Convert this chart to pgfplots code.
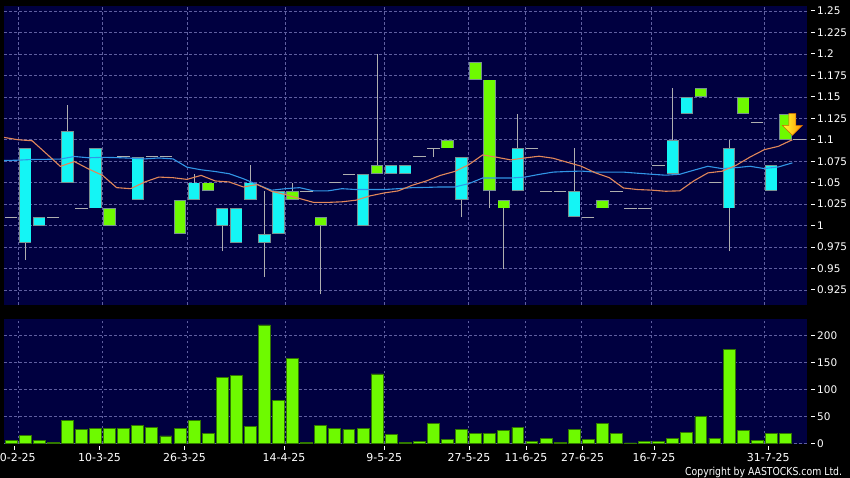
\documentclass[border=0pt]{standalone}
\usepackage{pgfplots}
\pgfplotsset{compat=1.18}
\usepackage{pgfplotstable}
\usepackage{fontspec}
\setmainfont{DejaVu Sans}

\definecolor{navybg}{RGB}{0,0,64}
\definecolor{gridc}{RGB}{95,95,160}
\definecolor{cyanc}{RGB}{20,245,245}
\definecolor{greenc}{RGB}{110,250,0}
\definecolor{outc}{RGB}{120,145,145}
\definecolor{wickc}{RGB}{175,175,175}
\definecolor{maor}{RGB}{225,135,90}
\definecolor{mabl}{RGB}{50,150,230}
\definecolor{volg}{RGB}{110,250,0}
\definecolor{volb}{RGB}{50,120,0}

\newcommand{\yl}[1]{\rule[3.5bp]{3.5bp}{0.8bp}\hspace{2.5bp}#1}
\newcommand{\xl}[1]{\rule{0.8bp}{3.5bp}\\#1}

\pgfplotstableread{
x bot top
1 0.98 1.09
2 1.00 1.01
4 1.05 1.11
6 1.02 1.09
9 1.03 1.08
13 1.03 1.05
15 1.00 1.02
16 0.98 1.02
17 1.03 1.05
18 0.98 0.99
19 0.99 1.04
25 1.00 1.06
27 1.06 1.07
28 1.06 1.07
32 1.03 1.08
36 1.04 1.09
40 1.01 1.04
47 1.06 1.10
48 1.13 1.15
51 1.02 1.09
54 1.04 1.07
}\cyanbody

\pgfplotstableread{
x bot top
7 1.00 1.02
12 0.99 1.03
14 1.04 1.05
20 1.03 1.04
22 1.00 1.01
26 1.06 1.07
31 1.09 1.10
33 1.17 1.19
34 1.04 1.17
35 1.02 1.03
42 1.02 1.03
49 1.15 1.16
52 1.13 1.15
55 1.10 1.13
}\greenbody

\pgfplotstableread{
x lo hi
1 0.96 1.09
4 1.05 1.14
13 1.03 1.06
15 0.97 1.02
17 1.03 1.07
18 0.94 1.04
20 1.03 1.05
22 0.92 1.01
26 1.06 1.20
30 1.08 1.09
32 1.01 1.08
34 1.02 1.17
35 0.95 1.03
36 1.04 1.13
40 1.01 1.09
47 1.06 1.16
51 0.97 1.10
}\wicks

\pgfplotstableread{
x y
0 1.01
3 1.01
5 1.02
8 1.08
10 1.08
11 1.08
21 1.04
23 1.05
24 1.06
29 1.08
30 1.09
37 1.09
38 1.04
39 1.04
41 1.01
43 1.04
44 1.02
45 1.02
46 1.07
50 1.05
53 1.12
56 1.10
}\dojis

\pgfplotstableread{
x y
-0.5 1.1027
0.5 1.1000
1.5 1.0988
2.5 1.0840
3.5 1.0690
4.5 1.0746
5.5 1.0660
6.5 1.0585
7.5 1.0442
8.5 1.0430
9.5 1.0508
10.5 1.0565
11.5 1.0558
12.5 1.0538
13.5 1.0585
14.5 1.0520
15.5 1.0508
16.5 1.0450
17.5 1.0478
18.5 1.0400
19.5 1.0360
20.5 1.0315
21.5 1.0270
22.5 1.0270
23.5 1.0277
24.5 1.0296
25.5 1.0346
26.5 1.0380
27.5 1.0404
28.5 1.0470
29.5 1.0520
30.5 1.0585
31.5 1.0630
32.5 1.0708
33.5 1.0823
34.5 1.0796
35.5 1.0765
36.5 1.0788
37.5 1.0808
38.5 1.0785
39.5 1.0738
40.5 1.0692
41.5 1.0615
42.5 1.0558
43.5 1.0438
44.5 1.0420
45.5 1.0413
46.5 1.0400
47.5 1.0405
48.5 1.0521
49.5 1.0614
50.5 1.0633
51.5 1.0702
52.5 1.0799
53.5 1.0884
54.5 1.0923
55.5 1.1000
}\maO

\pgfplotstableread{
x y
-0.5 1.0758
0.5 1.0762
1.5 1.0770
2.5 1.0772
3.5 1.0775
4.5 1.0805
5.5 1.0790
6.5 1.0795
7.5 1.0792
8.5 1.0785
9.5 1.0777
10.5 1.0788
11.5 1.0777
12.5 1.0680
13.5 1.0650
14.5 1.0630
15.5 1.0604
16.5 1.0546
17.5 1.0477
18.5 1.0412
19.5 1.0430
20.5 1.0442
21.5 1.0404
22.5 1.0404
23.5 1.0430
24.5 1.0420
25.5 1.0420
26.5 1.0420
27.5 1.0430
28.5 1.0442
29.5 1.0445
30.5 1.0450
31.5 1.0450
32.5 1.0488
33.5 1.0554
34.5 1.0554
35.5 1.0554
36.5 1.0565
37.5 1.0596
38.5 1.0623
39.5 1.0630
40.5 1.0635
41.5 1.0623
42.5 1.0623
43.5 1.0623
44.5 1.0610
45.5 1.0598
46.5 1.0587
47.5 1.0598
48.5 1.0645
49.5 1.0691
50.5 1.0664
51.5 1.0675
52.5 1.0691
53.5 1.0664
54.5 1.0683
55.5 1.0730
}\maB

\pgfplotstableread{
x v
0 5
1 15
2 5
3 2
4 43
5 26
6 28
7 28
8 28
9 33
10 30
11 14
12 28
13 43
14 19
15 123
16 127
17 32
18 220
19 80
20 157
21 2
22 33
23 28
24 26
25 28
26 129
27 17
28 2
29 4
30 37
31 7
32 26
33 19
34 19
35 24
36 30
37 4
38 10
39 2
40 26
41 7
42 37
43 19
44 1
45 4
46 4
47 10
48 21
49 50
50 10
51 175
52 24
53 6
54 19
55 19
}\vol

\pgfplotsset{
  chartbase/.style={
    scale only axis, anchor=south west,
    width=803bp,
    xmin=-0.5, xmax=56.54,
    axis background/.style={fill=navybg},
    axis line style={draw=none},
    major tick length=0pt,
    xtick={0.5,6.5,12.5,19.5,26.5,32.5,36.55,40.5,45.5,53.5},
    xticklabels={},
    ytick pos=right, yticklabel pos=right,
    grid=major,
    grid style={draw=gridc, dash pattern=on 2.5bp off 2.5bp, line width=0.6bp},
    yticklabel style={anchor=west, inner xsep=0pt, xshift=4bp,
      font=\fontsize{10.5}{12}\selectfont, text=white},
  }
}

\begin{document}
\begin{tikzpicture}
\useasboundingbox (0,0) rectangle (850bp,478bp);
\fill[black] (0,0) rectangle (850bp,478bp);

\begin{axis}[chartbase,
  at={(4bp,173bp)}, height=299bp,
  ymin=0.9075, ymax=1.2558,
  ytick={0.925,0.95,0.975,1,1.025,1.05,1.075,1.1,1.125,1.15,1.175,1.2,1.225,1.25},
  yticklabels={\yl{0.925},\yl{0.95},\yl{0.975},\yl{1},\yl{1.025},\yl{1.05},\yl{1.075},\yl{1.1},\yl{1.125},\yl{1.15},\yl{1.175},\yl{1.2},\yl{1.225},\yl{1.25}},
]
% wicks
\addplot[draw=none, mark=none, forget plot,
  error bars/.cd, y dir=plus, y explicit, error mark=none,
  error bar style={draw=wickc, line width=1bp}]
  table[x=x, y=lo, y error expr=\thisrow{hi}-\thisrow{lo}] {\wicks};
% body outlines
\addplot[draw=none, mark=none, forget plot,
  error bars/.cd, y dir=plus, y explicit, error mark=none,
  error bar style={draw=outc, line width=12.4bp}]
  table[x=x, y=bot, y error expr=\thisrow{top}-\thisrow{bot}] {\cyanbody};
\addplot[draw=none, mark=none, forget plot,
  error bars/.cd, y dir=plus, y explicit, error mark=none,
  error bar style={draw=outc, line width=12.4bp}]
  table[x=x, y=bot, y error expr=\thisrow{top}-\thisrow{bot}] {\greenbody};
% body fills
\addplot[draw=none, mark=none, forget plot,
  error bars/.cd, y dir=plus, y explicit, error mark=none,
  error bar style={draw=cyanc, line width=10.8bp}]
  table[x=x, y expr=\thisrow{bot}+0.0009, y error expr=\thisrow{top}-\thisrow{bot}-0.0018] {\cyanbody};
\addplot[draw=none, mark=none, forget plot,
  error bars/.cd, y dir=plus, y explicit, error mark=none,
  error bar style={draw=greenc, line width=10.8bp}]
  table[x=x, y expr=\thisrow{bot}+0.0009, y error expr=\thisrow{top}-\thisrow{bot}-0.0018] {\greenbody};
% dojis
\addplot[only marks, mark=-, mark size=6.2bp, mark options={draw=wickc, line width=1bp}]
  table[x=x, y=y] {\dojis};
% moving averages
\addplot[mabl, line width=1.1bp, mark=none] table[x=x, y=y] {\maB};
\addplot[maor, line width=1.1bp, mark=none] table[x=x, y=y] {\maO};
% arrow
\shadedraw[left color=yellow!80!white, right color=orange!85!yellow, draw=orange!80!black, line width=0.5bp]
  (axis cs:55.5,1.105) -- ++(-10bp,10bp) -- ++(6.5bp,0bp) -- ++(0bp,12bp) -- ++(7bp,0bp)
  -- ++(0bp,-12bp) -- ++(6.5bp,0bp) -- cycle;
\end{axis}

\begin{axis}[chartbase,
  at={(4bp,34.5bp)}, height=124.5bp,
  ymin=0, ymax=231,
  ytick={0,50,100,150,200},
  yticklabels={\yl{0},\yl{50},\yl{100},\yl{150},\yl{200}},
  extra x ticks={0.23,6.29,12.32,19.39,26.51,32.53,36.58,40.6,45.67,53.79},
  extra x tick labels={\xl{20-2-25},\xl{10-3-25},\xl{26-3-25},\xl{14-4-25},\xl{9-5-25},\xl{27-5-25},\xl{11-6-25},\xl{27-6-25},\xl{16-7-25},\xl{31-7-25}},
  extra x tick style={grid=none,
    xticklabel style={anchor=north, yshift=-2.5bp, align=center, inner sep=0pt,
      font=\fontsize{11}{11.5}\selectfont, text=white}},
]
\addplot[ybar, bar width=11.9bp, fill=volg, draw=volb, line width=0.8bp]
  table[x=x, y=v] {\vol};
\end{axis}

\node[anchor=base east, text=white, font=\fontsize{11}{12}\selectfont, xscale=0.85, transform shape]
  at (845bp,2.5bp) {Copyright by AASTOCKS.com Ltd.};
\end{tikzpicture}
\end{document}
